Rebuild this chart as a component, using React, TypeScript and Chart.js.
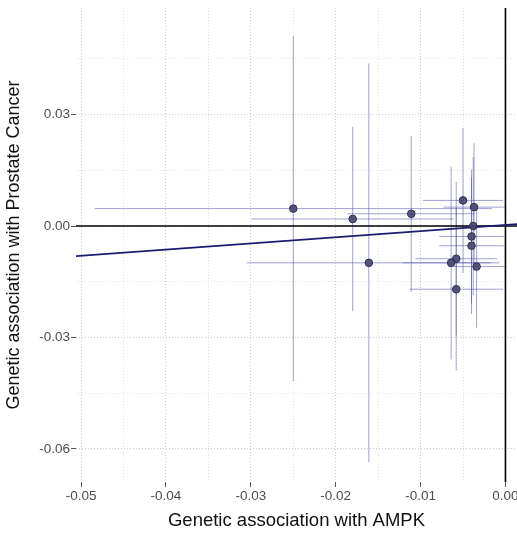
import React, { useEffect, useRef } from "react";
import { Chart, registerables } from "chart.js";

Chart.register(...registerables);

// Per-variant genetic associations (exposure: AMPK, outcome: prostate cancer)
const BETA_X = [-0.025, -0.018, -0.0161, -0.0111, -0.005, -0.0037, -0.0038, -0.004, -0.004, -0.0058, -0.0064, -0.0034, -0.0058];
const BETA_Y = [0.0047, 0.0019, -0.0099, 0.0033, 0.0069, 0.0051, 0.0, -0.0028, -0.0053, -0.0088, -0.0099, -0.0109, -0.017];
// Error bar half-widths
const ERR_X = [0.0234, 0.0119, 0.0144, 0.0075, 0.0047, 0.0036, 0.0033, 0.0038, 0.0038, 0.0048, 0.0057, 0.0033, 0.0055];
const ERR_Y = [0.0464, 0.0248, 0.0537, 0.021, 0.0195, 0.0172, 0.0186, 0.018, 0.0184, 0.0207, 0.026, 0.0164, 0.0219];

// Fitted line
const FIT_SLOPE = 0.166;
const FIT_INTERCEPT = 0.0003;

// Axes
const X_RANGE = [-0.0506, 0.00136];
const Y_RANGE = [-0.0689, 0.0587];
const X_MAJOR = [-0.05, -0.04, -0.03, -0.02, -0.01, 0];
const X_MINOR = [-0.045, -0.035, -0.025, -0.015, -0.005];
const Y_MAJOR = [-0.06, -0.03, 0, 0.03];
const Y_MINOR = [-0.045, -0.015, 0.015, 0.045];

const X_TITLE = "Genetic association with AMPK";
const Y_TITLE = "Genetic association with Prostate Cancer";

const FONT = "'Liberation Sans', Arial, sans-serif";
const BAR_COLOR = "rgba(70, 70, 170, 0.5)";

function isMajor(list: number[], v: number) {
  return list.some((m) => Math.abs(m - v) < 1e-9);
}

export default function App() {
  const ref = useRef<HTMLCanvasElement | null>(null);

  useEffect(() => {
    if (!ref.current) return;

    const errorBars: any[] = [];
    BETA_X.forEach((x, i) => {
      const y = BETA_Y[i];
      errorBars.push({
        type: "line",
        data: [
          { x: x - ERR_X[i], y },
          { x: x + ERR_X[i], y },
        ],
        borderColor: BAR_COLOR,
        borderWidth: 1,
        pointRadius: 0,
        showLine: true,
        order: 5,
      });
      errorBars.push({
        type: "line",
        data: [
          { x, y: y - ERR_Y[i] },
          { x, y: y + ERR_Y[i] },
        ],
        borderColor: BAR_COLOR,
        borderWidth: 1,
        pointRadius: 0,
        showLine: true,
        order: 5,
      });
    });

    const datasets: any[] = [
      {
        type: "scatter",
        data: BETA_X.map((x, i) => ({ x, y: BETA_Y[i] })),
        backgroundColor: "rgba(72, 72, 112, 0.92)",
        borderColor: "#2e2e52",
        borderWidth: 1,
        pointRadius: 3.8,
        order: 0,
      },
      {
        type: "line",
        data: X_RANGE.map((x) => ({ x, y: FIT_INTERCEPT + FIT_SLOPE * x })),
        borderColor: "#1c1c6e",
        borderWidth: 1.6,
        pointRadius: 0,
        order: 1,
      },
      {
        type: "line",
        data: X_RANGE.map((x) => ({ x, y: 0 })),
        borderColor: "#000000",
        borderWidth: 1.6,
        pointRadius: 0,
        order: 3,
      },
      {
        type: "line",
        data: Y_RANGE.map((y) => ({ x: 0, y })),
        borderColor: "#000000",
        borderWidth: 1.6,
        pointRadius: 0,
        order: 3,
      },
      ...errorBars,
    ];

    const chart = new Chart(ref.current, {
      type: "scatter",
      data: { datasets },
      options: {
        animation: false,
        responsive: false,
        events: [],
        layout: { autoPadding: false, padding: { top: 8, right: 0, left: 0, bottom: 0 } },
        plugins: { legend: { display: false }, tooltip: { enabled: false } },
        scales: {
          x: {
            type: "linear",
            min: X_RANGE[0],
            max: X_RANGE[1],
            afterBuildTicks: (s: any) => {
              s.ticks = [...X_MAJOR, ...X_MINOR].sort((a, b) => a - b).map((v) => ({ value: v }));
            },
            afterFit: (s: any) => {
              s.height = 52;
              s.paddingLeft = 0;
              s.paddingRight = 0;
            },
            ticks: {
              autoSkip: false,
              maxRotation: 0,
              padding: 1,
              color: "#4d4d4d",
              font: { family: FONT, size: 13.5 },
              callback: (v: any) => (isMajor(X_MAJOR, Number(v)) ? Number(v).toFixed(2) : ""),
            },
            grid: {
              color: (c: any) => (isMajor(X_MAJOR, c.tick?.value) ? "#cccccc" : "#e4e4e4"),
              lineWidth: 1,
              tickLength: 5,
              tickWidth: 1,
              tickColor: (c: any) => (isMajor(X_MAJOR, c.tick?.value) ? "#555555" : "rgba(0,0,0,0)"),
            },
            border: { display: false, dash: [1, 2] },
            title: {
              display: true,
              text: X_TITLE,
              color: "#111111",
              font: { family: FONT, size: 18.5 },
              padding: { top: 0, bottom: 2 },
            },
          },
          y: {
            type: "linear",
            min: Y_RANGE[0],
            max: Y_RANGE[1],
            afterBuildTicks: (s: any) => {
              s.ticks = [...Y_MAJOR, ...Y_MINOR].sort((a, b) => a - b).map((v) => ({ value: v }));
            },
            afterFit: (s: any) => {
              s.width = 76;
              s.paddingTop = 0;
              s.paddingBottom = 0;
            },
            ticks: {
              autoSkip: false,
              padding: 1,
              color: "#4d4d4d",
              font: { family: FONT, size: 13.5 },
              callback: (v: any) => (isMajor(Y_MAJOR, Number(v)) ? Number(v).toFixed(2) : ""),
            },
            grid: {
              color: (c: any) => (isMajor(Y_MAJOR, c.tick?.value) ? "#cccccc" : "#e4e4e4"),
              lineWidth: 1,
              tickLength: 5,
              tickWidth: 1,
              tickColor: (c: any) => (isMajor(Y_MAJOR, c.tick?.value) ? "#555555" : "rgba(0,0,0,0)"),
            },
            border: { display: false, dash: [1, 2] },
            title: {
              display: true,
              text: Y_TITLE,
              color: "#111111",
              font: { family: FONT, size: 18 },
              padding: { top: 3, bottom: 0 },
            },
          },
        },
      } as any,
    });

    return () => chart.destroy();
  }, []);

  return (
    <div style={{ position: "fixed", left: 0, top: 0, width: 517, height: 534, background: "#fff" }}>
      <canvas ref={ref} width={517} height={534} style={{ display: "block" }} />
    </div>
  );
}
